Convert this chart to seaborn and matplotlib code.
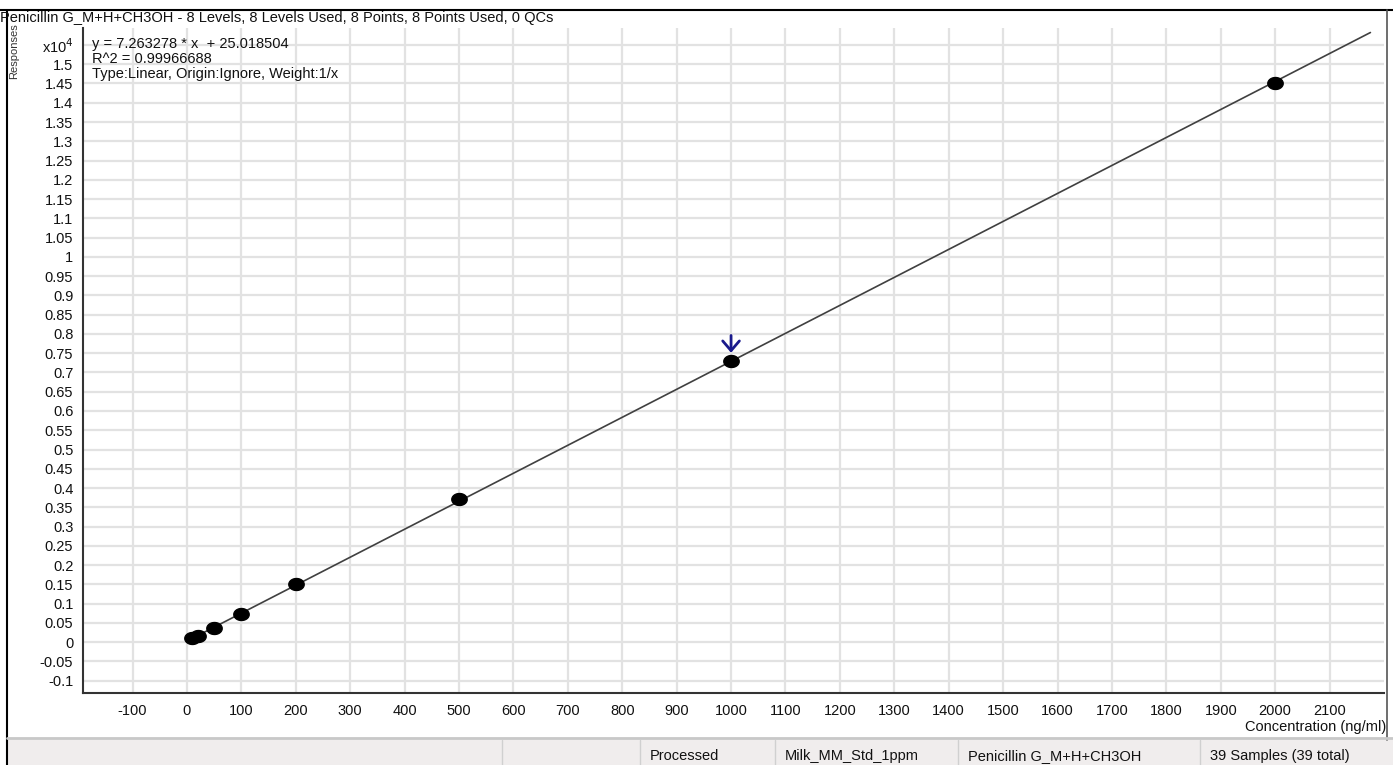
import numpy as np
import matplotlib.pyplot as plt
import matplotlib.patches as mpatches
from matplotlib.ticker import FuncFormatter
import pandas as pd
import seaborn as sns

sns.set_style("whitegrid")
plt.rcParams['font.family'] = ['Liberation Sans', 'DejaVu Sans']

# calibration points (concentration ng/ml, response x10^4)
conc = [10, 20, 50, 100, 200, 500, 1000, 2000]
resp = [0.0098, 0.017, 0.037, 0.073, 0.150, 0.371, 0.730, 1.450]
slope = 7.263278
intercept = 25.018504
fit_range = [0, 2175]

title = "Penicillin G_M+H+CH3OH - 8 Levels, 8 Levels Used, 8 Points, 8 Points Used, 0 QCs"
eq_lines = ["y = 7.263278 * x  + 25.018504",
            "R^2 = 0.99966688",
            "Type:Linear, Origin:Ignore, Weight:1/x"]
status_cells = ["Processed", "Milk_MM_Std_1ppm", "Penicillin G_M+H+CH3OH",
                "39 Samples (39 total)"]

pts = pd.DataFrame({'conc': conc, 'resp': resp})
xf = np.linspace(fit_range[0], fit_range[1], 50)
fit = pd.DataFrame({'conc': xf, 'resp': (slope * xf + intercept) / 1e4})

# slightly flattened dot like the instrument software draws
tt = np.linspace(0, 2 * np.pi, 40)
ell = list(zip(np.cos(tt), 0.78 * np.sin(tt)))

fig = plt.figure(figsize=(13.93, 7.65), dpi=100)
ax = fig.add_axes([83/1393, 1-693/765, (1384-83)/1393, (693-28)/765])

sns.lineplot(data=fit, x='conc', y='resp', color='#404040', lw=1.2, ax=ax)
sns.scatterplot(data=pts, x='conc', y='resp', color='black', s=125,
                marker=ell, edgecolor='black', zorder=5, ax=ax)

# selected point marker (blue arrow)
ax.annotate('', xy=(conc[6], resp[6] + 0.021), xytext=(conc[6], resp[6] + 0.066),
            arrowprops=dict(arrowstyle='->,head_length=0.35,head_width=0.3',
                            color='#1a1a8c', lw=2, shrinkA=0, shrinkB=0,
                            mutation_scale=20))

ax.set_xlim(-191, 2200)
ax.set_ylim(-0.132, 1.594)
ax.set_xticks(np.arange(-100, 2101, 100))
ax.set_yticks(np.round(np.arange(-0.1, 1.5501, 0.05), 2))

def yfmt(v, pos):
    if abs(v - 1.55) < 1e-6:
        return 'x10$^{4}$'
    return '%g' % round(v, 2)

ax.yaxis.set_major_formatter(FuncFormatter(yfmt))
ax.xaxis.set_major_formatter(FuncFormatter(lambda v, p: '%d' % v))
ax.grid(True, color='#e2e2e2', lw=1.6)
ax.tick_params(axis='both', labelsize=10.5, length=5, width=1,
               color='#333333', labelcolor='#111111', pad=2, direction='out')
ax.tick_params(axis='x', pad=4, direction='inout', length=8)
ax.set_xlabel('')
ax.set_ylabel('')
for s in ['top', 'right']:
    ax.spines[s].set_visible(False)
for s in ['left', 'bottom']:
    ax.spines[s].set_color('#333333')
    ax.spines[s].set_linewidth(1.5)

for i, t in enumerate(eq_lines):
    ax.text(0.007, 0.987 - i * 0.0225, t, transform=ax.transAxes,
            fontsize=10.5, va='top', ha='left', color='#111111')

fig.text(0.0, 1-18/765, title, fontsize=10.5, va='center', ha='left', color='#111111')
fig.text(14/1393, 1-51/765, 'Responses', rotation=90, fontsize=8,
         va='center', ha='center', color='#333333')
fig.text(1386/1393, 1-727/765, 'Concentration (ng/ml)', fontsize=10.5,
         ha='right', va='center', color='#111111')

# panel frame
fig.add_artist(plt.Line2D([0, 1], [1-10/765, 1-10/765], color='black', lw=1.5,
                          transform=fig.transFigure))
fig.add_artist(plt.Line2D([7/1393, 7/1393], [0, 1-10/765], color='black', lw=1.5,
                          transform=fig.transFigure))
fig.add_artist(plt.Line2D([1387/1393, 1387/1393], [1-740/765, 1-10/765],
                          color='#555555', lw=1.2, transform=fig.transFigure))

# status bar
fig.add_artist(mpatches.Rectangle((7/1393, 0), 1, 27/765, transform=fig.transFigure,
                                  facecolor='#f0eded', edgecolor='none'))
fig.add_artist(plt.Line2D([7/1393, 1], [27/765, 27/765], color='#c8c8c8', lw=2,
                          transform=fig.transFigure))
for xs in [502, 640, 775, 958, 1200]:
    fig.add_artist(plt.Line2D([xs/1393, xs/1393], [0, 25/765], color='#d0d0d0',
                              lw=1, transform=fig.transFigure))
for xs, t in zip([650, 785, 968, 1210], status_cells):
    fig.text(xs/1393, 9/765, t, fontsize=10.5, ha='left', va='center', color='#111111')

fig.savefig('out.png', dpi=100)
